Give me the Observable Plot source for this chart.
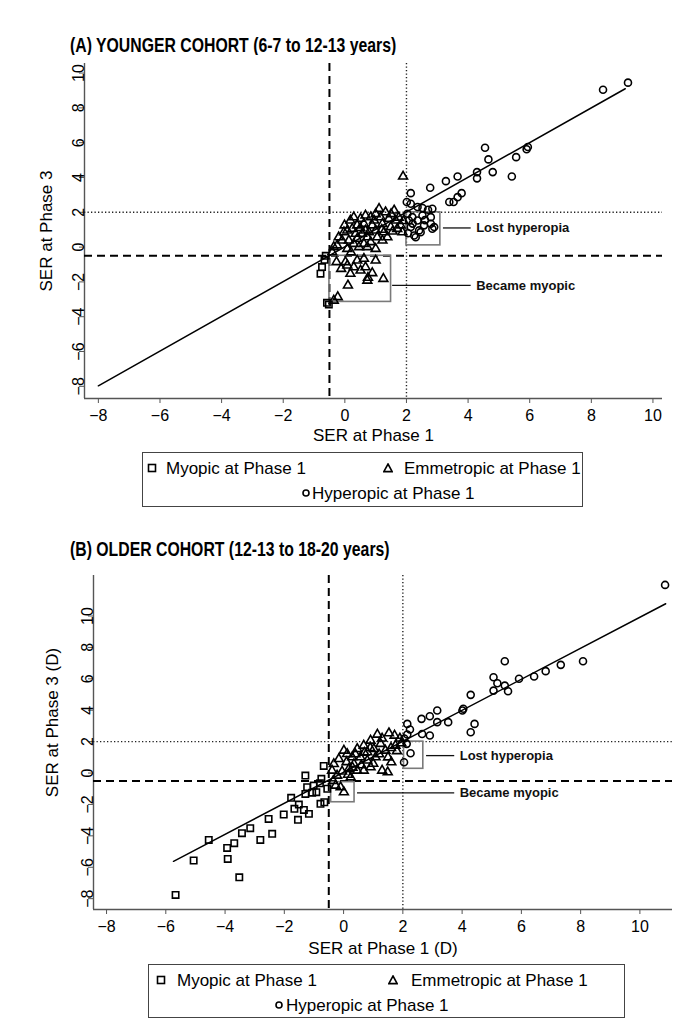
<!DOCTYPE html>
<html>
<head>
<meta charset="utf-8">
<script src="https://cdn.jsdelivr.net/npm/d3@7"></script>
<script src="https://cdn.jsdelivr.net/npm/@observablehq/plot@0.6"></script>
<style>
  html, body { margin: 0; padding: 0; background: #fff; }
  #page { position: relative; width: 690px; height: 1027px; font-family: "Liberation Sans", Arial, sans-serif; color: #000; }
  .title { position: absolute; font-weight: bold; font-size: 20px; white-space: nowrap; transform-origin: left center; transform: scaleX(0.79); line-height: 1; }
  .chart { position: absolute; left: 0; }
  .legend { position: absolute; border: 1.5px solid #444; box-sizing: border-box; background: #fff; }
  .item { position: absolute; font-size: 17px; white-space: nowrap; line-height: 1; }
  .item svg { position: absolute; overflow: visible; }
</style>
</head>
<body>
<div id="page"></div>
<script>
// ---------------- DATA ----------------
const xTicks = [-8, -6, -4, -2, 0, 2, 4, 6, 8, 10];
const yTicks = [-8, -6, -4, -2, 0, 2, 4, 6, 8, 10];
const groupNames = ["Myopic at Phase 1", "Emmetropic at Phase 1", "Hyperopic at Phase 1"];
const cutMyopia = -0.5;     // dashed lines
const cutHyperopia = 2;     // dotted lines

// Panel A: younger cohort (SER at Phase 1, SER at Phase 3)
const titleA = "(A) YOUNGER COHORT (6-7 to 12-13 years)";
const myopicA = [[-0.66,-0.73],[-0.74,-1.15],[-0.79,-1.53],[-0.52,-3.30],[-0.58,-3.20],[-0.62,-0.5]];
const emmetropicA = [
  [1.89,4.06],
  [-0.25,0.10],[-0.20,0.57],[-0.03,0.86],[-0.01,1.25],[0.18,1.53],[0.24,1.05],[0.35,0.77],[0.40,1.25],
  [0.51,1.63],[0.62,1.34],[0.67,0.96],[0.73,0.57],[0.84,1.72],[0.89,1.25],[1.00,0.96],[1.11,2.20],
  [1.16,1.72],[1.22,1.34],[1.27,0.86],[1.32,2.01],[1.43,1.63],[1.49,1.15],[1.60,2.11],[1.65,1.53],
  [1.70,1.05],[1.81,1.25],[1.87,0.86],[0.13,0.38],[0.29,0.19],[0.46,0.0],[0.62,0.19],[0.08,-0.10],
  [0.73,0.0],[1.00,-0.10],[0.84,0.29],[0.40,0.48],[0.56,0.77],[-0.09,0.38],[-0.36,0.0],[-0.41,-0.29],
  [1.05,0.57],[1.38,0.57],[1.22,0.38],[0.08,0.96],[0.78,0.86],[0.95,1.53],[0.67,1.82],[0.29,1.72],
  [1.50,1.90],[1.75,1.70],[1.90,1.50],[1.55,0.90],[0.20,-0.30],[1.20,1.00],[0.50,1.10],[1.00,1.90],
  [-0.27,-0.86],[-0.12,-1.25],[0.08,-1.05],[0.18,-1.53],[0.40,-0.77],[0.62,-0.67],[1.00,-0.77],
  [0.67,-1.15],[0.89,-1.49],[0.73,-1.92],[0.75,-1.76],[1.25,-1.82],[0.10,-2.20],[-0.23,-2.87],
  [-0.36,-3.07],[0.02,-0.86],[0.29,-1.15],[0.51,-1.34]
];
const hyperopicA = [
  [9.19,9.45],[8.38,9.04],[5.94,5.75],[5.90,5.62],[5.56,5.17],[4.55,5.71],[4.66,5.04],[4.80,4.31],
  [4.29,4.31],[4.29,3.95],[5.42,4.06],[3.66,4.06],[3.28,3.79],[2.77,3.41],[3.79,3.10],[3.66,2.87],
  [3.53,2.59],[3.39,2.59],[2.14,3.10],[2.01,2.59],[2.14,2.49],[2.36,2.30],[2.52,2.25],[2.70,2.15],
  [2.84,2.20],[2.19,1.72],[2.36,1.53],[2.52,1.82],[2.79,1.72],[2.90,1.15],[2.57,1.25],[2.41,0.96],
  [2.25,0.67],[2.14,1.15],[2.08,1.53],[2.46,0.86],[2.30,0.57],[2.79,1.34],[2.84,1.05],[2.03,1.92],
  [2.60,1.55],[2.20,1.35],[2.05,0.80]
];
const fitA = [[-8.0,-7.97],[9.1,9.1]];
const boxesA = [[2.0,3.1,0.1,2.0],[-0.5,1.5,-3.15,-0.5]];          // x1,x2,y1,y2
const notesA = [["Lost hyperopia",3.2,4.1,1.1],["Became myopic",1.55,4.1,-2.2]]; // text,x1,x2,y
const xDomainA = [-8.45, 10.31];
const yDomainA = [-8.7, 10.55];

// Panel B: older cohort
const titleB = "(B) OLDER COHORT (12-13 to 18-20 years)";
const myopicB = [
  [-5.67,-7.76],[-3.52,-6.64],[-5.06,-5.57],[-4.55,-4.26],[-3.93,-4.77],[-3.91,-5.47],[-3.69,-4.47],
  [-3.43,-3.83],[-3.15,-3.51],[-2.81,-4.26],[-2.53,-2.92],[-2.41,-3.87],[-2.02,-2.64],[-1.77,-1.58],
  [-1.66,-2.28],[-1.51,-2.01],[-1.34,-2.35],[-1.54,-2.98],[-1.17,-2.60],[-1.29,-0.16],[-1.23,-0.90],
  [-1.29,-1.33],[-1.01,-0.80],[-0.80,-0.65],[-0.75,-0.37],[-0.92,-1.22],[-0.78,-1.96],[-0.65,-1.86],
  [-0.67,0.45],[-0.55,-1.00],[-1.06,-1.25]
];
const emmetropicB = [
  [1.14,2.45],[1.53,2.54],[1.72,2.39],[0.91,2.07],[0.68,1.75],[0.46,1.54],[0.01,1.43],[0.12,1.22],
  [-0.16,0.90],[-0.33,0.58],[-0.39,0.16],[-0.22,-0.16],[-0.27,-0.80],[0.01,-1.22],[-0.10,-0.90],
  [1.61,0.69],[1.49,0.05],[1.30,0.16],[1.41,1.43],[1.75,1.75],[1.08,1.01],[0.80,0.80],[0.57,1.01],
  [0.35,0.58],[0.68,0.16],[0.46,0.16],[0.18,0.27],[0.24,-0.27],[0.91,0.37],[1.02,1.54],[1.25,1.86],
  [0.80,1.33],[0.29,1.01],[1.90,2.20],[1.30,2.20],[0.60,0.50],[0.10,0.70],[-0.05,0.10],[1.00,0.60],
  [1.20,1.20],[1.60,1.60],[0.40,1.20],[0.90,1.60],[1.50,1.00],[1.80,1.40],[0.70,1.30],[0.15,-0.10],
  [1.95,1.90],[-0.35,-0.50],[0.30,0.35]
];
const hyperopicB = [
  [10.85,11.98],[8.08,7.12],[7.33,6.89],[6.82,6.49],[6.43,6.15],[5.92,6.00],[5.44,7.12],[5.06,6.10],
  [5.19,5.72],[5.44,5.57],[5.55,5.21],[5.06,5.25],[4.29,4.98],[4.04,4.09],[4.01,3.98],[4.42,3.13],
  [4.29,2.60],[3.53,3.24],[3.16,3.98],[3.16,3.24],[2.91,3.62],[2.63,3.45],[2.91,2.39],[2.65,2.49],
  [2.15,3.13],[2.24,2.77],[2.15,2.45],[2.26,1.26],[2.04,0.69],[2.13,1.86],[2.05,2.20]
];
const fitB = [[-5.74,-5.62],[10.87,10.78]];
const boxesB = [[2.04,2.69,0.27,2.0],[-0.42,0.37,-1.86,-0.58]];
const notesB = [["Lost hyperopia",2.8,3.75,1.11],["Became myopic",0.47,3.75,-1.26]];
const xDomainB = [-8.44, 11.1];
const yDomainB = [-8.69, 12.58];

// ---------------- DRAWING ----------------
const FONT = "Liberation Sans, Arial, sans-serif";
const page = document.getElementById("page");

function panel(o) {
  const pts = [
    ...o.myopic.map(([x, y]) => ({x, y, g: 0})),
    ...o.emmetropic.map(([x, y]) => ({x, y, g: 1})),
    ...o.hyperopic.map(([x, y]) => ({x, y, g: 2}))
  ];
  const symbolFor = ["square", "triangle", "circle"];
  const rFor = [3.6, 3.3, 3.5];
  return Plot.plot({
    width: 690,
    height: o.height,
    marginLeft: o.marginLeft,
    marginRight: o.marginRight,
    marginTop: o.marginTop,
    marginBottom: 52,
    style: {fontFamily: FONT, color: "#000", background: "white", overflow: "visible"},
    x: {domain: o.xDomain},
    y: {domain: o.yDomain},
    marks: [
      // axis lines
      Plot.ruleX([o.xDomain[0]], {stroke: "#555", strokeWidth: 1.4}),
      Plot.ruleY([o.yDomain[0]], {stroke: "#555", strokeWidth: 1.4}),
      Plot.axisX(xTicks, {tickSize: 5, tickPadding: 6, fontSize: 16, stroke: "#555", label: null}),
      Plot.axisY(yTicks, {tickSize: 5, tickPadding: -4, tickRotate: -90, fontSize: 16, stroke: "#555", label: null}),
      // reference lines
      Plot.ruleX([cutMyopia], {stroke: "#000", strokeWidth: 2, strokeDasharray: "8,5"}),
      Plot.ruleY([cutMyopia], {stroke: "#000", strokeWidth: 2, strokeDasharray: "8,5"}),
      Plot.ruleX([cutHyperopia], {stroke: "#222", strokeWidth: 1.4, strokeDasharray: "1.3,2.2"}),
      Plot.ruleY([cutHyperopia], {stroke: "#222", strokeWidth: 1.4, strokeDasharray: "1.3,2.2"}),
      // highlight boxes
      Plot.rect(o.boxes, {x1: d => d[0], x2: d => d[1], y1: d => d[2], y2: d => d[3], fill: "none", stroke: "#7a7a7a", strokeWidth: 1.6}),
      // annotation connectors and labels
      Plot.ruleY(o.notes, {y: d => d[3], x1: d => d[1], x2: d => d[2], stroke: "#111", strokeWidth: 1.3}),
      Plot.text(o.notes, {x: d => d[2], y: d => d[3], text: d => d[0], textAnchor: "start", dx: 5, fontWeight: "bold", fontSize: 13, fill: "#111"}),
      // fitted line
      Plot.line(o.fit, {x: d => d[0], y: d => d[1], stroke: "#000", strokeWidth: 1.5}),
      // points
      ...[0, 1, 2].map(g => Plot.dot(pts.filter(d => d.g === g), {
        x: "x", y: "y", symbol: symbolFor[g], r: rFor[g], fill: "none", stroke: "#000", strokeWidth: 1.6
      })),
      // axis titles
      Plot.text([o.xLabel], {frameAnchor: "bottom", lineAnchor: "middle", textAnchor: "middle", dy: o.xLabelDy, text: d => d, fontSize: 17, fill: "#000"}),
      Plot.text([o.yLabel], {frameAnchor: "left", lineAnchor: "middle", textAnchor: "middle", rotate: -90, dx: o.yLabelDx, dy: o.yLabelShift, text: d => d, fontSize: 17, fill: "#000"})
    ]
  });
}

function addTitle(text, left, top) {
  const t = document.createElement("div");
  t.className = "title";
  t.textContent = text;
  t.style.left = left + "px";
  t.style.top = top + "px";
  page.appendChild(t);
}

function addChart(svg, top) {
  svg.classList.add("chart");
  svg.style.top = top + "px";
  page.appendChild(svg);
}

function symbolSvg(kind) {
  const ns = "http://www.w3.org/2000/svg";
  const s = document.createElementNS(ns, "svg");
  s.setAttribute("width", "10"); s.setAttribute("height", "10");
  let el;
  if (kind === 0) { el = document.createElementNS(ns, "rect"); el.setAttribute("x", 1.5); el.setAttribute("y", 1.5); el.setAttribute("width", 7); el.setAttribute("height", 7); }
  if (kind === 1) { el = document.createElementNS(ns, "path"); el.setAttribute("d", "M5,1 L9.2,8.6 L0.8,8.6 Z"); }
  if (kind === 2) { el = document.createElementNS(ns, "circle"); el.setAttribute("cx", 5); el.setAttribute("cy", 5); el.setAttribute("r", 3); }
  el.setAttribute("fill", "none"); el.setAttribute("stroke", "#000"); el.setAttribute("stroke-width", "1.6");
  s.appendChild(el);
  return s;
}

function addLegend(box, items) {
  const L = document.createElement("div");
  L.className = "legend";
  L.style.left = box[0] + "px"; L.style.top = box[1] + "px";
  L.style.width = box[2] + "px"; L.style.height = box[3] + "px";
  page.appendChild(L);
  items.forEach(([g, symX, textX, cy]) => {
    const it = document.createElement("div");
    it.className = "item";
    it.style.left = textX + "px";
    it.style.top = (cy - 8.5) + "px";
    it.textContent = groupNames[g];
    page.appendChild(it);
    const s = symbolSvg(g);
    s.style.position = "absolute";
    s.style.left = (symX - 5) + "px";
    s.style.top = (cy - 5) + "px";
    page.appendChild(s);
  });
}

// Panel A
addTitle(titleA, 70, 35);
addChart(panel({
  myopic: myopicA, emmetropic: emmetropicA, hyperopic: hyperopicA, fit: fitA,
  boxes: boxesA, notes: notesA, xDomain: xDomainA, yDomain: yDomainA,
  height: 395, marginLeft: 84, marginRight: 28, marginTop: 8,
  xLabel: "SER at Phase 1", yLabel: "SER at Phase 3", xLabelDy: 37, yLabelDx: -38, yLabelShift: 0
}), 55);
addLegend([142, 452, 441, 55], [[0, 152, 166, 468], [1, 388, 404, 468], [2, 306, 312, 493]]);

// Panel B
addTitle(titleB, 70, 539);
addChart(panel({
  myopic: myopicB, emmetropic: emmetropicB, hyperopic: hyperopicB, fit: fitB,
  boxes: boxesB, notes: notesB, xDomain: xDomainB, yDomain: yDomainB,
  height: 396, marginLeft: 93, marginRight: 18, marginTop: 10,
  xLabel: "SER at Phase 1 (D)", yLabel: "SER at Phase 3 (D)", xLabelDy: 39, yLabelDx: -41, yLabelShift: -20
}), 565);
addLegend([148, 964, 477, 54], [[0, 161, 177, 980], [1, 393, 411, 980], [2, 279, 286, 1005]]);
</script>
</body>
</html>
